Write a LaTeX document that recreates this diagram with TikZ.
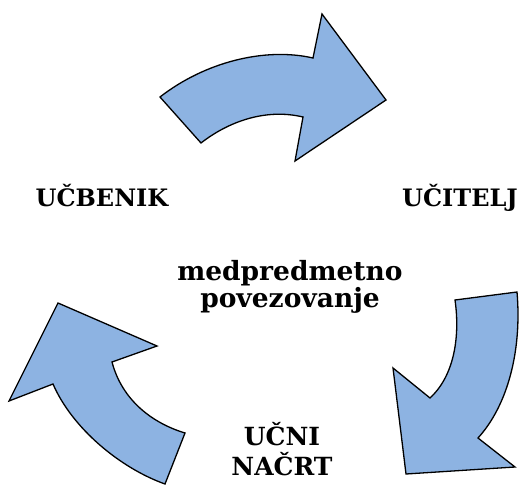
\documentclass[tikz,border=0pt]{standalone}
\usepackage{fontspec}
\setmainfont{DejaVu Serif}
\usepackage{tikz}
\definecolor{arrowblue}{RGB}{141,179,226}

\begin{document}
\begin{tikzpicture}[x=1pt,y=-1pt,semithick,line join=miter]
 \tikzstyle{every label}=[font=\bfseries\fontsize{24}{25}\selectfont,anchor=base,inner sep=0pt]
 \tikzstyle{bigarrow}=[draw=black,line width=1.3pt,fill=arrowblue]

   \useasboundingbox (0,0) rectangle (519,486);

   % top arrow
   \path[bigarrow] (160,97) .. controls (205,62) and (265,47) .. (313,58)
     -- (322,14) -- (386,100) -- (295,161) -- (303,117)
     .. controls (265,108) and (228,122) .. (201,143) -- cycle;
   % right arrow
   \path[bigarrow] (517,292) -- (455,300)
     .. controls (460,335) and (455,375) .. (430,398)
     -- (393,368) -- (406,474) -- (515,467) -- (478,438)
     .. controls (508,405) and (522,350) .. (517,292) -- cycle;
   % left arrow
   \path[bigarrow] (58,303) -- (157,346) -- (112,362)
     .. controls (122,400) and (152,423) .. (185,433)
     -- (165,484) .. controls (120,468) and (72,428) .. (53,384)
     -- (9,401) -- cycle;

   \node[every label] (ucbenik) at (102,207) {UČBENIK};
   \node[every label] (ucitelj) at (460,207) {UČITELJ};
   \node[every label,align=center,font=\bfseries\fontsize{26.5}{25}\selectfont] (medpred) at (290,307) {medpredmetno\\povezovanje};
   \node[every label,align=center,font=\bfseries\fontsize{25}{30}\selectfont] (nacrt) at (282,475) {UČNI\\NAČRT};

\end{tikzpicture}
\end{document}
